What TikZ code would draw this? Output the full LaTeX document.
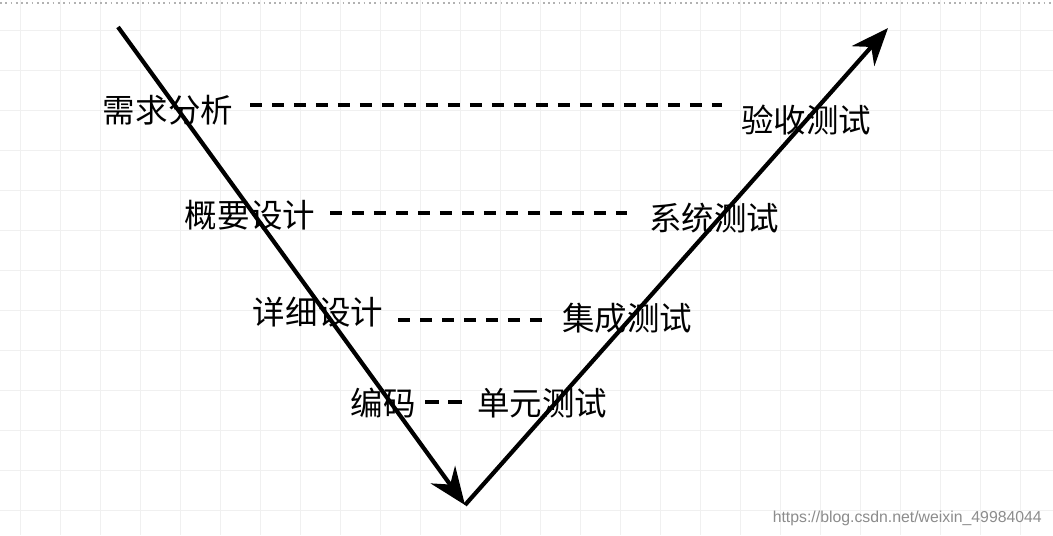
\documentclass[tikz,border=0pt]{standalone}
\usepackage{fontspec}
\newfontfamily\cjk{Noto Sans CJK SC}
\usetikzlibrary{arrows.meta}
\begin{document}
\begin{tikzpicture}[x=0.02cm,y=-0.02cm,
  lbl/.style={font=\cjk\fontsize{18.5}{21}\selectfont,inner sep=2pt},
  dash line/.style={line width=2.4pt,dash pattern=on 0.24cm off 0.2cm},
  vline/.style={line width=2.4pt,-{Stealth[length=0.75cm,width=0.6cm]}}]
\useasboundingbox (0,0) rectangle (1053,535);
\fill[white] (0,0) rectangle (1053,535);
\foreach \x in {20,60,...,1040} \draw[black!6] (\x,0) -- (\x,535);
\foreach \y in {30,70,...,530} \draw[black!6] (0,\y) -- (1053,\y);
\draw[black!30,dotted,line width=1pt] (0,3) -- (1053,3);
\coordinate (top) at (118,27);
\coordinate (bot) at (465,505);
\coordinate (end) at (888,28);
\draw[vline] (top) -- (bot);
\draw[vline] (bot) -- (end);
\node[lbl] (a1) at (168,110) {需求分析};
\node[lbl] (b1) at (806,120) {验收测试};
\node[lbl] (a2) at (250,215) {概要设计};
\node[lbl] (b2) at (714,218) {系统测试};
\node[lbl] (a3) at (318,312) {详细设计};
\node[lbl] (b3) at (627,318) {集成测试};
\node[lbl] (a4) at (383,403) {编码};
\node[lbl] (b4) at (542,403) {单元测试};
\coordinate (d1s) at (250,105); \coordinate (d1e) at (722,105);
\coordinate (d2s) at (330,213); \coordinate (d2e) at (627,213);
\coordinate (d3s) at (398,320); \coordinate (d3e) at (547,320);
\coordinate (d4s) at (425,402); \coordinate (d4e) at (470,402);
\draw[dash line] (d1s) -- (d1e);
\draw[dash line] (d2s) -- (d2e);
\draw[dash line] (d3s) -- (d3e);
\draw[dash line,dash pattern=on 0.28cm off 0.18cm] (d4s) -- (d4e);
\node[font=\fontspec{Liberation Sans}\fontsize{9}{10}\selectfont,text=black!45,anchor=east] (wm) at (1048,518) {https://blog.csdn.net/weixin\_49984044};
\end{tikzpicture}
\end{document}
